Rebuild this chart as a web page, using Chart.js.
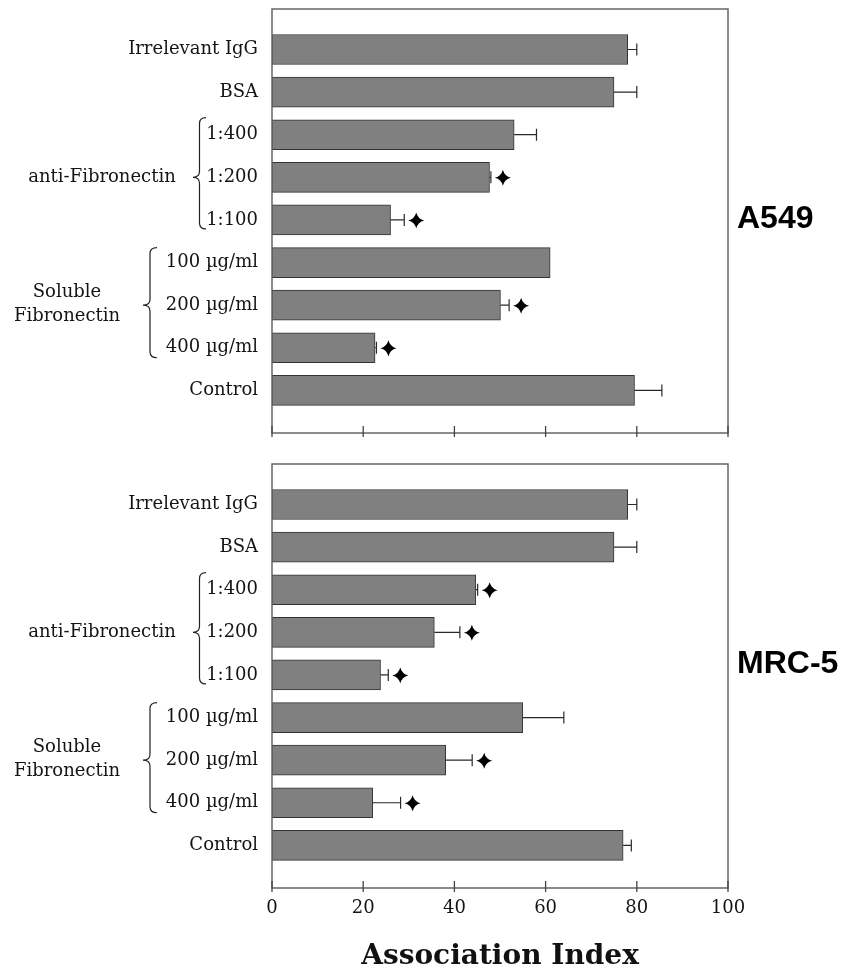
<!DOCTYPE html>
<html><head><meta charset="utf-8">
<script src="https://cdn.jsdelivr.net/npm/chart.js@4.4.0/dist/chart.umd.min.js"></script>
<style>
body{margin:0;background:#fff;width:856px;height:971px;overflow:hidden;position:relative}
canvas{position:absolute;left:0}
</style></head>
<body>
<canvas id="c1" width="856" height="450" style="top:0"></canvas>
<canvas id="c2" width="856" height="516" style="top:455px"></canvas>
<script>
const categories = ['Irrelevant IgG','BSA','1:400','1:200','1:100','100 µg/ml','200 µg/ml','400 µg/ml','Control'];
const xTicks = [0,20,40,60,80,100];
const a549Values = [78.0,75.0,53.1,47.7,26.0,61.0,50.1,22.6,79.5];
const a549Errors = [2.0,5.0,4.9,0.3,3.0,0,1.9,0.3,6.0];
const a549Signif = [0,0,0,1,1,0,1,1,0];
const mrc5Values = [78.0,75.0,44.7,35.6,23.8,55.0,38.1,22.1,77.0];
const mrc5Errors = [2.0,5.0,0.4,5.6,1.7,9.0,5.8,6.1,1.8];
const mrc5Signif = [0,0,1,1,1,0,1,1,0];
const groupAnti = ['anti-Fibronectin'];
const groupSoluble = ['Soluble','Fibronectin'];
const axisTitle = 'Association Index';

const SERIF = '"DejaVu Serif", serif';
const TEXT = '#141414';

function brace(ctx, xTip, xEnd, yTop, yTip, yBot){
  const xm = xTip + (xEnd - xTip) * 0.5, r = 6;
  ctx.beginPath();
  ctx.moveTo(xEnd, yTop);
  ctx.quadraticCurveTo(xm, yTop, xm, yTop + r);
  ctx.lineTo(xm, yTip - r);
  ctx.quadraticCurveTo(xm, yTip, xTip, yTip);
  ctx.quadraticCurveTo(xm, yTip, xm, yTip + r);
  ctx.lineTo(xm, yBot - r);
  ctx.quadraticCurveTo(xm, yBot, xEnd, yBot);
  ctx.stroke();
}
function star(ctx, cx, cy, R){
  const c = 1.6;
  ctx.beginPath();
  ctx.moveTo(cx, cy - R);
  ctx.quadraticCurveTo(cx + c, cy - c, cx + R, cy);
  ctx.quadraticCurveTo(cx + c, cy + c, cx, cy + R);
  ctx.quadraticCurveTo(cx - c, cy + c, cx - R, cy);
  ctx.quadraticCurveTo(cx - c, cy - c, cx, cy - R);
  ctx.closePath();
  ctx.fill();
}

function makeChart(id, values, errors, signif, panelName, panelY, bottomAxis){
  const decor = {
    id: 'decor',
    afterDatasetsDraw(chart){
      const ctx = chart.ctx, xs = chart.scales.x, ys = chart.scales.y;
      ctx.save();
      ctx.strokeStyle = '#2a2a2a'; ctx.fillStyle = '#000'; ctx.lineWidth = 1.2;
      values.forEach((v, i) => {
        const y = ys.getPixelForValue(i + 1);
        const x0 = xs.getPixelForValue(v), x1 = xs.getPixelForValue(v + errors[i]);
        if (errors[i] > 0){
          ctx.beginPath(); ctx.moveTo(x0, y); ctx.lineTo(x1, y);
          ctx.moveTo(x1, y - 6); ctx.lineTo(x1, y + 6); ctx.stroke();
        }
        if (signif[i]) star(ctx, x1 + 12, y + 0.5, 8);
      });
      ctx.restore();
    },
    afterDraw(chart){
      const ctx = chart.ctx, xs = chart.scales.x, ys = chart.scales.y, a = chart.chartArea;
      ctx.save();
      ctx.strokeStyle = '#666'; ctx.lineWidth = 1.5;
      ctx.strokeRect(a.left, a.top, a.right - a.left, a.bottom - a.top);
      ctx.strokeStyle = '#444'; ctx.lineWidth = 1.3;
      xs.ticks.forEach(t => {
        const px = xs.getPixelForValue(t.value);
        ctx.beginPath(); ctx.moveTo(px, a.bottom - 7); ctx.lineTo(px, a.bottom + 4); ctx.stroke();
      });
      ctx.fillStyle = TEXT; ctx.font = '18px ' + SERIF;
      ctx.textAlign = 'center'; ctx.textBaseline = 'middle';
      ctx.fillText(groupAnti[0], 102, ys.getPixelForValue(4));
      const y7 = ys.getPixelForValue(7);
      ctx.fillText(groupSoluble[0], 67, y7 - 12.5);
      ctx.fillText(groupSoluble[1], 67, y7 + 11.5);
      ctx.strokeStyle = '#222'; ctx.lineWidth = 1.2;
      brace(ctx, 193, 206, ys.getPixelForValue(3) - 17, ys.getPixelForValue(4), ys.getPixelForValue(5) + 9);
      brace(ctx, 143, 157, ys.getPixelForValue(6) - 15, y7, ys.getPixelForValue(8) + 10);
      ctx.fillStyle = '#000'; ctx.font = 'bold 32px "Liberation Sans", Arial, sans-serif';
      ctx.textAlign = 'left';
      ctx.fillText(panelName, 737, panelY);
      ctx.restore();
    }
  };
  return new Chart(document.getElementById(id), {
    type: 'bar',
    data: { datasets: [{
      data: values.map((v, i) => ({ x: v, y: i + 1 })),
      backgroundColor: '#808080', borderColor: '#333', borderWidth: 1,
      borderSkipped: false, barThickness: 30
    }]},
    options: {
      indexAxis: 'y', responsive: false, animation: false, devicePixelRatio: 1,
      layout: { padding: { left: 0, right: 128, top: 9, bottom: 0 } },
      plugins: { legend: { display: false }, tooltip: { enabled: false } },
      scales: {
        y: {
          type: 'linear', reverse: true, min: 0.05, max: 10, offset: false,
          grid: { display: false, drawTicks: false, offset: false }, border: { display: false },
          afterBuildTicks: s => { s.ticks = categories.map((c, i) => ({ value: i + 1 })); },
          ticks: { callback: v => categories[v - 1] ?? '', font: { family: SERIF, size: 18 }, color: TEXT, padding: 14, autoSkip: false },
          afterFit: s => { s.width = 272; s.paddingTop = 0; s.paddingBottom = 0; }
        },
        x: {
          type: 'linear', min: 0, max: 100,
          grid: { display: false, drawTicks: false }, border: { display: false },
          afterBuildTicks: s => { s.ticks = xTicks.map(v => ({ value: v })); },
          ticks: { display: bottomAxis, font: { family: SERIF, size: 18 }, color: TEXT, padding: 10, maxRotation: 0 },
          title: { display: bottomAxis, text: axisTitle, font: { family: SERIF, size: 28, weight: 'bold', lineHeight: 1 }, color: '#111', padding: 0 },
          afterFit: s => { s.height = bottomAxis ? 83 : 17; }
        }
      }
    },
    plugins: [decor]
  });
}
makeChart('c1', a549Values, a549Errors, a549Signif, 'A549', 219, false);
makeChart('c2', mrc5Values, mrc5Errors, mrc5Signif, 'MRC-5', 209, true);
</script>
</body></html>
